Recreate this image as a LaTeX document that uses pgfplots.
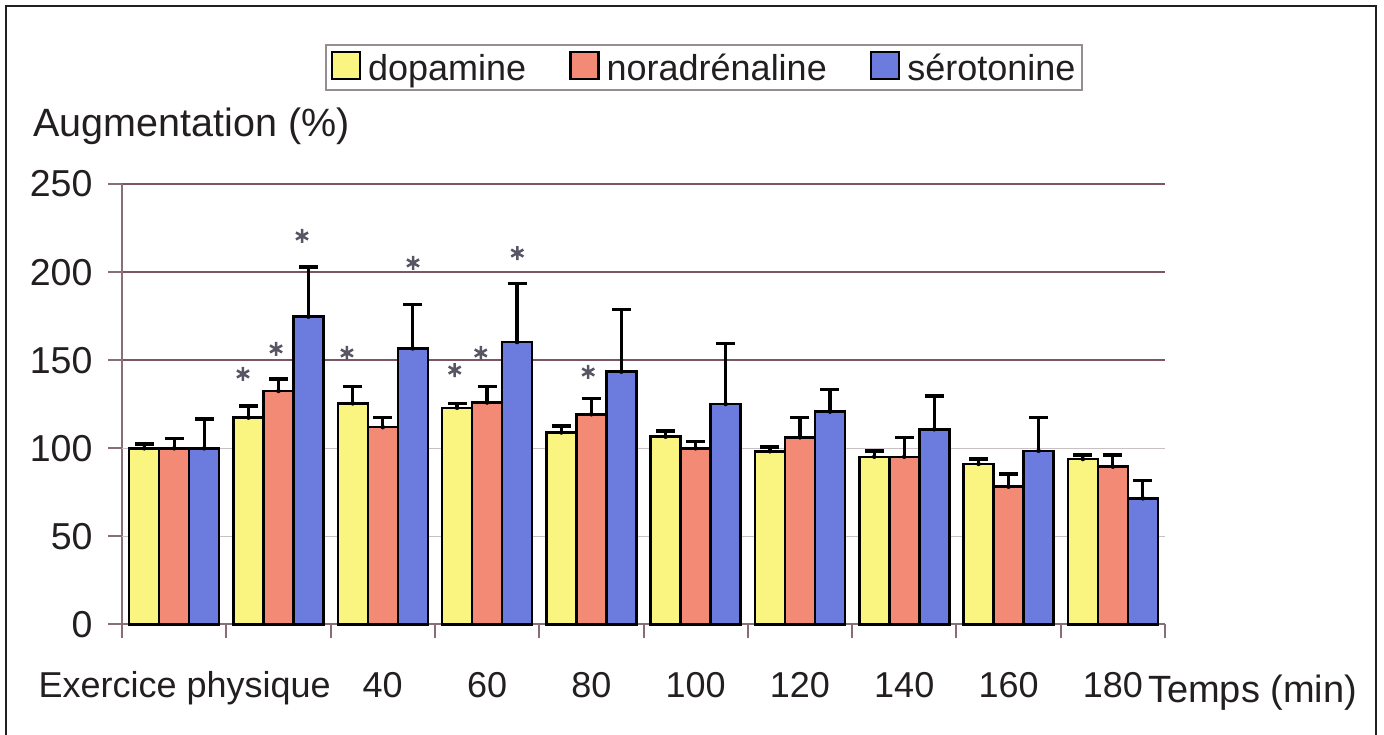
\documentclass[border=0pt]{standalone}
\usepackage{pgfplots}
\pgfplotsset{compat=1.18}
\usepackage{pgfplotstable}
\usepackage{fontspec}
\setmainfont{Liberation Sans}
\definecolor{cyel}{RGB}{250,244,128}
\definecolor{cred}{RGB}{243,138,118}
\definecolor{cblu}{RGB}{108,124,222}
\definecolor{axc}{RGB}{135,110,120}
\definecolor{gridd}{RGB}{125,85,98}
\definecolor{gridl}{RGB}{200,192,196}
\definecolor{framec}{RGB}{35,31,32}
\definecolor{legb}{RGB}{150,140,148}
\definecolor{starc}{RGB}{90,85,100}
\definecolor{txt}{RGB}{35,31,32}

\pgfplotstableread{
x d de n ne s se
0.5 100 2.3 100 5.7 100 16.6
1.5 117.4 6.6 132.5 6.8 174.7 28.3
2.5 125.5 9.5 112 5.4 156.7 25
3.5 123 2.5 126 9 160.3 33.3
4.5 109 3.6 119.3 9.1 143.5 35.4
5.5 106.6 3.2 100 3.8 125.1 34.5
6.5 98.3 2.3 106.2 11.4 120.8 12.7
7.5 95.2 3.4 95.2 10.8 110.8 18.9
8.5 91.1 2.7 78.2 7.2 98.6 19
9.5 93.9 2.3 89.6 6.6 71.6 10
}\data

\pgfplotsset{
  errplot/.style={only marks, mark=none, forget plot,
    error bars/.cd, y dir=plus, y explicit, error mark=|,
    error bar style={line width=3.2pt, draw=black, solid},
    error mark options={line width=3.5pt, draw=black, mark size=9.5pt, solid}},
}

\begin{document}
\begin{tikzpicture}[font=\fontsize{36}{42}\selectfont, text=txt]
\useasboundingbox (0,0) rectangle (1384pt,735pt);
\draw[framec, line width=2.5pt] (6pt,-5pt) -- (6pt,729pt) -- (1376pt,729pt) -- (1376pt,-5pt);
\node[anchor=base west, font=\fontsize{39.5}{44}\selectfont] at (30pt,598pt) {Augmentation (\%)};
\begin{axis}[
  scale only axis, width=1043pt, height=440.5pt,
  at={(122pt,110.5pt)}, anchor=south west,
  xmin=0, xmax=10, ymin=0, ymax=250,
  clip=false,
  /pgf/number format/assume math mode=true,
  axis lines*=left,
  axis line style={axc, line width=2pt},
  tick align=outside, major tick length=14pt,
  tick style={axc, line width=2pt},
  xtick={0,...,10}, xticklabels={},
  ytick={0,150,200,250},
  extra y ticks={50,100},
  extra y tick style={grid style={gridl, line width=1.5pt}},
  ymajorgrids, grid style={gridd, line width=2pt},
  yticklabel style={font=\fontsize{37.5}{42}\selectfont, text=txt, xshift=-12pt},
  extra x ticks={0.6,2.5,3.5,4.5,5.5,6.5,7.5,8.5,9.5},
  extra x tick labels={Exercice physique,40,60,80,100,120,140,160,180},
  extra x tick style={major tick length=0pt},
  xticklabel style={font=\fontsize{36}{42}\selectfont, text=txt, anchor=base, yshift=-73.5pt},
  legend columns=3,
  legend style={at={(0.558,1.2645)}, anchor=center, draw=legb, line width=2pt,
    inner xsep=5pt, inner ysep=6pt, font=\fontsize{36}{42}\selectfont, text=txt,
    /tikz/every even column/.append style={column sep=41pt},
    /tikz/every odd column/.append style={column sep=5pt},
    cells={anchor=west}},
  legend image code/.code={\draw[#1, line width=2.5pt] (0pt,-11pt) rectangle (28pt,16pt);},
]
\addplot[ybar, bar width=30pt, bar shift=-30pt, fill=cyel, draw=black, line width=2.5pt]
  table[x=x, y=d]{\data};
\addlegendentry{dopamine}
\addplot[ybar, bar width=30pt, bar shift=0pt, fill=cred, draw=black, line width=2.5pt]
  table[x=x, y=n]{\data};
\addlegendentry{noradrénaline}
\addplot[ybar, bar width=30pt, bar shift=30pt, fill=cblu, draw=black, line width=2.5pt]
  table[x=x, y=s]{\data};
\addlegendentry{sérotonine}
\addplot[errplot] table[x expr=\thisrow{x}-0.2876, y=d, y error=de]{\data};
\addplot[errplot] table[x=x, y=n, y error=ne]{\data};
\addplot[errplot] table[x expr=\thisrow{x}+0.2876, y=s, y error=se]{\data};
\addplot[only marks, mark=asterisk, mark size=7pt, starc, line width=2.5pt, forget plot]
  coordinates {(1.16,142.2) (1.477,156.4) (1.726,220.5) (2.157,154.1) (2.79,205.2)
               (3.19,144.4) (3.44,154.1) (3.79,210.8) (4.47,143.3)};
\node[anchor=base, font=\fontsize{38}{42}\selectfont, text=txt, yshift=-78.5pt] at (axis cs:10.84,0) {Temps (min)};
\end{axis}
\end{tikzpicture}
\end{document}
